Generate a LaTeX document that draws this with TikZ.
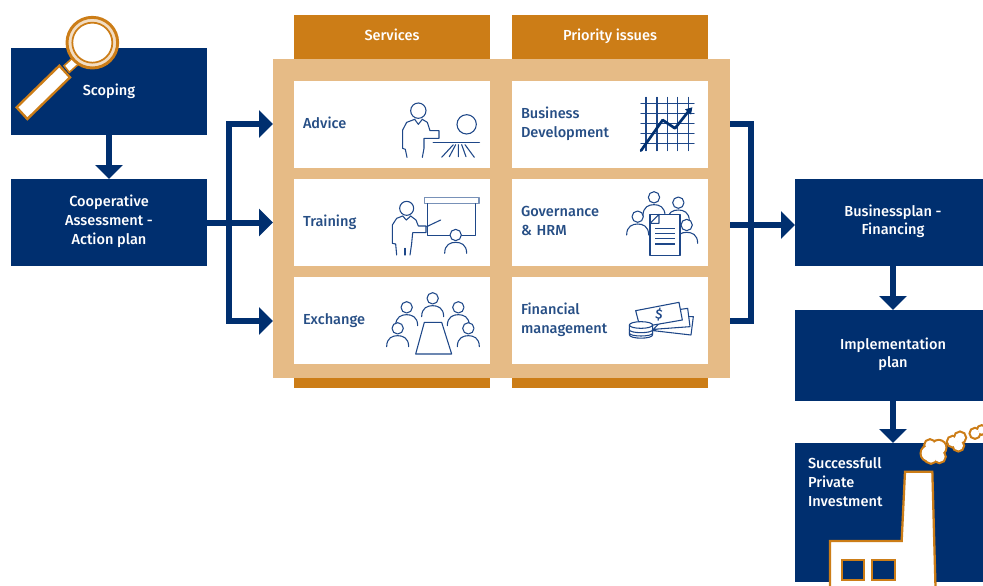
\documentclass[tikz,border=0pt]{standalone}
\usepackage{fontspec}
\setmainfont{Fira Sans}[BoldFont={Fira Sans Medium}]
\usetikzlibrary{arrows.meta}
\definecolor{navy}{HTML}{002F6F}
\definecolor{ochre}{HTML}{CC7D17}
\definecolor{tan}{HTML}{E6BB86}
\definecolor{icon}{HTML}{1E4788}
\newcommand{\labelfont}{\bfseries\fontsize{10.9}{14}\selectfont}
\tikzset{
  x=0.75pt,y=-0.75pt,
  every node/.style={outer sep=0pt},
  struts/.style={execute at begin node=\strut,execute at end node=\strut},
  box/.style={fill=navy,text=white,font=\labelfont,struts,align=center,inner sep=0pt,minimum width=147pt,anchor=north west},
  tab/.style={fill=ochre,text=white,font=\labelfont,struts,inner sep=0pt,minimum width=147pt,anchor=north west},
  cell/.style={fill=white,text=navy!85!white,font=\labelfont,struts,align=left,inner sep=0pt,minimum width=147pt,text width=133.5pt,minimum height=65.25pt,anchor=north west},
  conn/.style={draw=navy,line width=4.5pt,miter limit=10},
  tip/.tip={Triangle[width=20pt,length=10.5pt]},
  arrow/.style={conn,-tip},
  ic/.style={draw=icon,line width=0.8pt,line cap=round,line join=round},
  zoomed/.style={x=0.25pt,y=-0.25pt},
  bust/.pic={
    \path[ic,fill=white] (-33,55) .. controls (-33,28) and (-15,22) .. (0,22) .. controls (15,22) and (33,28) .. (33,55);
    \path[ic,fill=white] (0,0) circle[radius=17];
  }
}
\begin{document}
\begin{tikzpicture}
\useasboundingbox (0,0) rectangle (983,586);
\clip (0,0) rectangle (983,586);
% columns
\node[tab,minimum height=33pt] (services) at (294,15) {Services};
\node[tab,minimum height=33pt] (priority) at (512,15) {Priority issues};
\node[fill=ochre,inner sep=0pt,minimum width=147pt,minimum height=7.5pt,anchor=north west] (botL) at (294,378) {};
\node[fill=ochre,inner sep=0pt,minimum width=147pt,minimum height=7.5pt,anchor=north west] (botR) at (512,378) {};
\node[fill=tan,inner sep=0pt,minimum width=342.75pt,minimum height=239.25pt,anchor=north west] (frame) at (273,59) {};
\node[cell] (advice) at (294,81) {Advice};
\node[cell] (training) at (294,179) {Training};
\node[cell] (exchange) at (294,277) {Exchange};
\node[cell] (business) at (512,81) {Business\\Development};
\node[cell] (governance) at (512,179) {Governance\\\& HRM};
\node[cell] (financial) at (512,277) {Financial\\management};
% boxes
\node[box,minimum height=65.25pt] (scoping) at (11,48) {Scoping};
\node[box,minimum height=65.25pt] (assess) at (11,179) {Cooperative\\Assessment -\\Action plan};
\node[box,minimum height=65.25pt] (plan) at (795,179) {Businessplan -\\Financing};
\node[box,minimum height=68.25pt] (impl) at (795,310) {Implementation\\plan};
\node[box,minimum height=104.25pt] (invest) at (795,443) {};
% connectors
\draw[arrow] (scoping.south) -- (assess.north);
\draw[arrow] (plan.south) -- (impl.north);
\draw[arrow] (impl.south) -- (invest.north);
\coordinate (lt) at (229,124);
\coordinate (lb) at (229,321);
\coordinate (rt) at (751,124);
\coordinate (rb) at (751,321);
\coordinate (rm) at (751,225);
\draw[arrow] (assess.east) -- (frame.west |- assess.east);
\draw[conn,tip-tip] (frame.west |- lt) -- (lt) -- (lb) -- (frame.west |- lb);
\draw[conn] (frame.east |- rt) -- (rt) -- (rb) -- (frame.east |- rb);
\draw[arrow] (frame.east |- rm) -- (plan.west |- rm);
% magnifier
\begin{scope}[zoomed]
\path[draw=ochre,line width=1.8pt,fill=white,line join=miter] (50,322) -- (178,197) -- (210,232) -- (82,357) -- cycle;
\path[draw=ochre,line width=1.2pt,fill=white] (192,197) -- (222,170) -- (238,190) -- (208,217) -- cycle;
\path[draw=ochre,line width=2.2pt,fill=tan!50!white] (277,128) circle[radius=76];
\path[draw=ochre,line width=1.3pt,fill=white] (277,128) circle[radius=60];
\end{scope}
% Advice icon
\begin{scope}[zoomed,shift={(870,240)}]
\path[ic] (385,92) circle[radius=23];
\path[ic] (374,118) -- (350,127) -- (338,150) -- (338,205) -- (346,208) -- (351,232);
\path[ic] (397,118) -- (412,127) -- (420,152) -- (447,152) -- (447,175) -- (402,175) -- (402,205) -- (397,232);
\path[ic] (374,118) -- (385,133) -- (397,118);
\path[ic] (530,133) circle[radius=29];
\path[ic,line width=1.1pt] (430,188) -- (568,188);
\path[ic] (490,194) -- (455,232) (497,194) -- (478,230) (505,194) -- (505,230) (515,194) -- (528,230) (525,194) -- (553,232);
\end{scope}
% Training icon
\begin{scope}[zoomed,shift={(870,240)}]
\path[ic,draw=icon!60!white,line width=1.2pt] (403,352) rectangle (567,371);
\path[ic] (413,371) -- (413,467) -- (557,467) -- (557,371);
\path[ic] (410,440) -- (452,420);
\path[ic] (350,385) circle[radius=21];
\path[ic] (338,408) -- (320,415) -- (307,435) -- (307,490) -- (317,492) -- (320,525);
\path[ic] (362,408) -- (378,420) -- (385,438) -- (408,438) -- (408,458) -- (368,458) -- (365,490) -- (360,525);
\path[ic] (338,408) -- (349,420) -- (362,408);
\path[ic] (345,505) -- (345,525);
\pic at (497,465) {bust};
\end{scope}
% Exchange icon
\begin{scope}[zoomed,shift={(870,810)}]
\pic at (428,85) {bust};
\pic at (350,112) {bust};
\pic at (505,112) {bust};
\path[ic,fill=white] (403,157) -- (455,157) -- (485,252) -- (377,252) -- cycle;
\pic at (323,175) {bust};
\pic at (535,175) {bust};
\end{scope}
% Chart icon
\begin{scope}[zoomed,shift={(1515,240)}]
\foreach \gx in {423,456,487,518,550} \path[ic] (\gx,52) -- (\gx,212);
\foreach \gy in {70,100,130,160,190} \path[ic] (408,\gy) -- (567,\gy);
\path[draw=navy,line width=2pt,line join=round,line cap=round] (408,212) -- (473,120) -- (510,145) -- (552,92);
\path[fill=navy] (540,88) -- (562,82) -- (558,104) -- cycle;
\end{scope}
% Governance icon
\begin{scope}[zoomed,shift={(1515,240)}]
\pic at (447,352) {bust};
\pic at (520,368) {bust};
\pic at (398,410) {bust};
\pic at (545,435) {bust};
\path[ic,fill=white] (435,403) rectangle (525,527);
\path[ic] (435,430) -- (462,430) -- (462,403) -- cycle;
\path[ic,line width=1.1pt,line cap=butt] (450,445) -- (510,445) (450,460) -- (510,460) (450,476) -- (510,476) (450,492) -- (510,492);
\end{scope}
% Money icon
\begin{scope}[zoomed,shift={(1515,810)}]
\path[ic,fill=white] (530,140) -- (565,140) -- (558,195) -- (445,182) -- cycle;
\path[ic,fill=white] (500,122) -- (548,115) -- (555,170) -- (445,178) -- cycle;
\path[ic,fill=white] (392,122) -- (522,97) -- (532,150) -- (405,172) -- cycle;
\node[text=icon,font=\bfseries\fontsize{10}{10}\selectfont,inner sep=0pt,rotate=-8] (dollar) at (462,134) {\$};
\path[ic,fill=white] (373,165) -- (373,194) .. controls (373,208) and (443,208) .. (443,194) -- (443,165) -- cycle;
\path[ic,fill=white] (408,165) ellipse[x radius=35,y radius=10];
\path[ic] (373,179) .. controls (373,191) and (443,191) .. (443,179);
\path[ic] (373,189) .. controls (373,201) and (443,201) .. (443,189);
\end{scope}
% Factory and smoke
\begin{scope}[zoomed,shift={(2340,1200)}]
\path[draw=ochre,line width=1.7pt,fill=white,line join=miter] (150,580) -- (150,423) -- (365,423) -- (375,215) -- (457,215) -- (467,580);
\path[draw=ochre,line width=1.7pt,fill=navy] (185,480) rectangle (252,540);
\path[draw=ochre,line width=1.7pt,fill=navy] (277,480) rectangle (345,540);
\foreach \cx/\cy/\cr in {447/160/22,476/143/20,478/170/16,453/172/16,450/135/14,518/125/14,540/113/15,535/137/14,585/100/13,605/90/11}
  \path[draw=ochre,line width=3.2pt] (\cx,\cy) circle[radius=\cr];
\foreach \cx/\cy/\cr in {447/160/22,476/143/20,478/170/16,453/172/16,450/135/14,518/125/14,540/113/15,535/137/14,585/100/13,605/90/11}
  \path[fill=white] (\cx,\cy) circle[radius=\cr];
\end{scope}
\node[text=white,font=\labelfont,struts,align=left,inner sep=0pt,anchor=north west] (investtext) at (808,458) {Successfull\\Private\\Investment};
\end{tikzpicture}
\end{document}
